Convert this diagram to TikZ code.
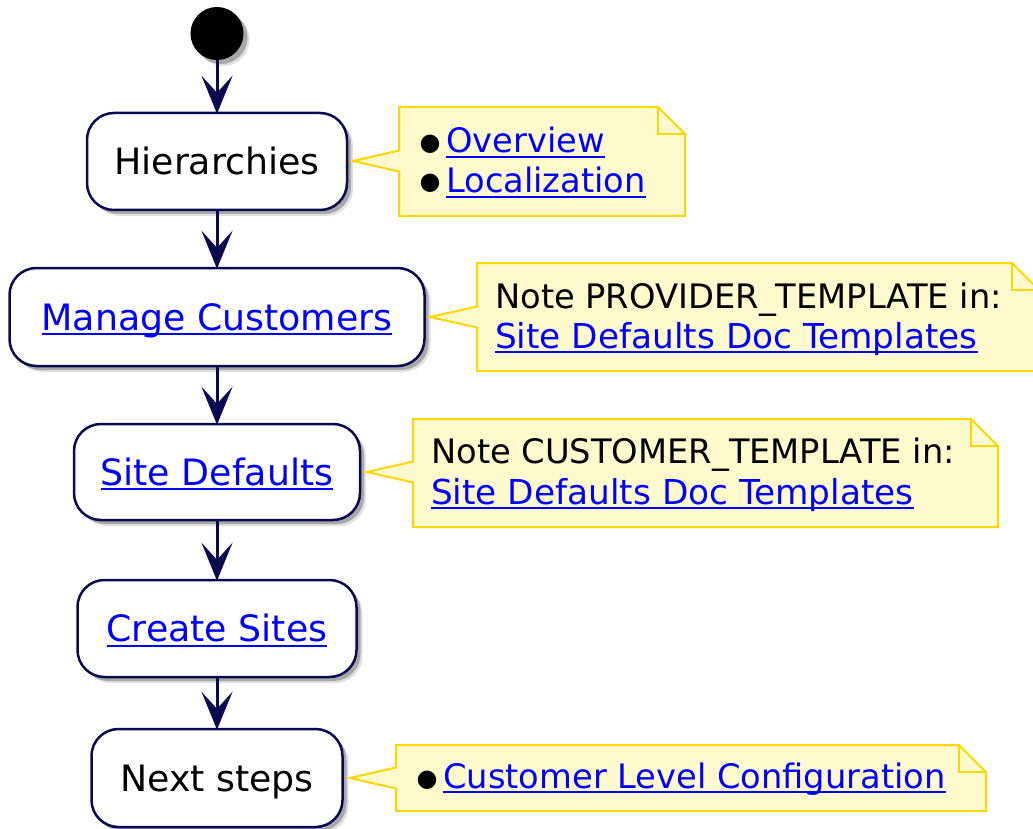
\documentclass[tikz,border=0pt]{standalone}
\usepackage{fontspec}
\setmainfont{DejaVu Sans}
\usetikzlibrary{arrows.meta,shadows}
\definecolor{navy}{RGB}{10,10,80}
\definecolor{linkblue}{RGB}{0,0,255}
\definecolor{notefill}{RGB}{255,250,205}
\definecolor{noteline}{RGB}{255,215,0}
\newcommand\lnk[1]{{\color{linkblue}\setbox0\hbox{#1}\rlap{\rule[-5pt]{\wd0}{2pt}}\box0}}
\newcommand\drawnote[6]{%
  \draw[notebg] (#1,#2) -- (#3-27,#2) -- (#3,#2+27) -- (#3,#4) -- (#1,#4) -- (#1,#5+10.5) -- (#6,#5) -- (#1,#5-10.5) -- cycle;
  \draw[notebg,fill=none] (#3-27,#2) -- (#3-27,#2+27) -- (#3,#2+27);}
\tikzset{
  shad/.style={drop shadow={shadow xshift=6pt, shadow yshift=-6pt, opacity=0.12, fill=black},
    drop shadow={shadow xshift=4pt, shadow yshift=-4pt, opacity=0.25, fill=black}},
  act/.style={draw=navy, line width=2.5pt, fill=white, rounded corners=27pt, inner sep=0pt,
    font=\fontsize{36.3}{41}\selectfont, text height=26.5pt, text depth=0pt, shad},
  arr/.style={draw=navy, line width=3pt, shorten >=-2pt, -{Stealth[length=38pt,width=31pt,inset=17pt]}},
  notebg/.style={draw=noteline, fill=notefill, line width=2pt, line join=miter},
  notetxt/.style={anchor=base west, inner sep=0pt, font=\fontsize{33.7}{40}\selectfont},
  linktxt/.style={notetxt, font=\fontsize{34.3}{40}\selectfont},
  bul/.style={anchor=center, inner sep=0pt, font=\fontsize{24}{24}\selectfont}
}
\begin{document}
\begin{tikzpicture}[x=1pt,y=-1pt]
\useasboundingbox (0,0) rectangle (1033,829);
\clip (0,0) rectangle (1033,829);
% start
\node[circle, fill=black, minimum size=53pt, inner sep=0pt, shad] (start) at (217,33.5) {};
% activities
\node[act, minimum width=260pt, minimum height=97pt] (b1) at (217,161.5) {Hierarchies};
\node[act, minimum width=415pt, minimum height=98pt] (b2) at (217,317) {\lnk{Manage Customers}};
\node[act, minimum width=286pt, minimum height=96pt] (b3) at (217,472) {\lnk{Site Defaults}};
\node[act, minimum width=279pt, minimum height=97pt] (b4) at (217,628.5) {\lnk{Create Sites}};
\node[act, minimum width=251pt, minimum height=98pt] (b5) at (217,778) {Next steps};
% arrows
\draw[arr] (start) -- (b1);
\draw[arr] (b1) -- (b2);
\draw[arr] (b2) -- (b3);
\draw[arr] (b3) -- (b4);
\draw[arr] (b4) -- (b5);
% notes
\drawnote{399}{107}{685}{216}{161}{353}
\node[bul] (d1a) at (430,150.5) {\smash{●}};
\node[notetxt] (n1a) at (446,153) {\lnk{Overview}};
\node[bul] (d1b) at (430,189.5) {\smash{●}};
\node[notetxt] (n1b) at (446,193) {\lnk{Localization}};

\drawnote{477}{263}{1039}{371}{317}{430}
\node[notetxt] (n2a) at (495,308) {Note PROVIDER\_TEMPLATE in:};
\node[linktxt] (n2b) at (495,348) {\lnk{Site Defaults Doc Templates}};

\drawnote{413}{419}{998}{527}{472}{367}
\node[notetxt] (n3a) at (431,463) {Note CUSTOMER\_TEMPLATE in:};
\node[linktxt] (n3b) at (431,504) {\lnk{Site Defaults Doc Templates}};

\drawnote{396}{745}{986}{811}{778}{350}
\node[bul] (d4) at (427,786.5) {\smash{●}};
\node[notetxt] (n4) at (443,788) {\lnk{Customer Level Configuration}};
\end{tikzpicture}
\end{document}
